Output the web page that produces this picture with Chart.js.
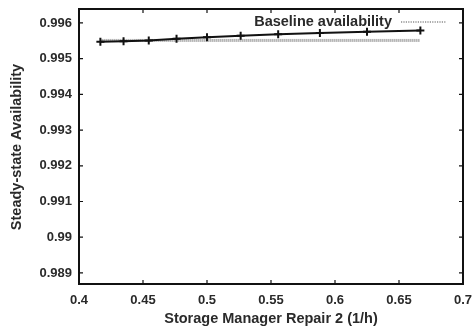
<!DOCTYPE html>
<html><head><meta charset="utf-8">
<script src="https://cdn.jsdelivr.net/npm/chart.js@4"></script>
<style>html,body{margin:0;padding:0;background:#fff}canvas{display:block}</style>
</head><body>
<canvas id="c" width="474" height="332"></canvas>
<script>
const repairRates = [0.4167, 0.4348, 0.4545, 0.4762, 0.5, 0.5263, 0.5556, 0.5882, 0.625, 0.6667];
const availability = [0.99547, 0.99549, 0.99551, 0.99556, 0.99560, 0.99564, 0.99568, 0.99572, 0.99575, 0.99579];
const baselineX = [0.4167, 0.6667];
const baselineY = [0.99551, 0.99551];
const xTicks = [0.4, 0.45, 0.5, 0.55, 0.6, 0.65, 0.7];
const yTicks = [0.989, 0.99, 0.991, 0.992, 0.993, 0.994, 0.995, 0.996];
const xTitle = 'Storage Manager Repair 2 (1/h)';
const yTitle = 'Steady-state Availability';
const legendLabel = 'Baseline availability';

const FAMILY = '"Liberation Sans", Arial, sans-serif';
const TITLE_FONT = 'bold 14.5px ' + FAMILY;
const TXT = '#2a2a2a';

const frame = {
  id: 'frame',
  afterDraw(chart) {
    const {ctx, chartArea: a, scales} = chart;
    ctx.save();
    ctx.strokeStyle = '#111'; ctx.lineWidth = 1.2;
    xTicks.forEach(v => {
      const x = scales.x.getPixelForValue(v);
      ctx.beginPath(); ctx.moveTo(x, a.bottom); ctx.lineTo(x, a.bottom - 4);
      ctx.moveTo(x, a.top); ctx.lineTo(x, a.top + 4); ctx.stroke();
    });
    yTicks.forEach(v => {
      const y = scales.y.getPixelForValue(v);
      ctx.beginPath(); ctx.moveTo(a.left, y); ctx.lineTo(a.left + 4, y);
      ctx.moveTo(a.right, y); ctx.lineTo(a.right - 4, y); ctx.stroke();
    });
    ctx.strokeStyle = '#111'; ctx.lineWidth = 2;
    ctx.strokeRect(a.left, a.top, a.right - a.left, a.bottom - a.top);
    // legend
    ctx.font = TITLE_FONT; ctx.fillStyle = TXT; ctx.textAlign = 'right'; ctx.textBaseline = 'middle';
    ctx.fillText(legendLabel, 392, 22);
    ctx.strokeStyle = '#555'; ctx.lineWidth = 1.2; ctx.setLineDash([1.2, 1.2]);
    ctx.beginPath(); ctx.moveTo(401, 22); ctx.lineTo(446, 22); ctx.stroke();
    ctx.setLineDash([]);
    // axis titles
    ctx.textAlign = 'center';
    ctx.fillText(xTitle, 271, 319);
    ctx.translate(17, 147); ctx.rotate(-Math.PI / 2);
    ctx.fillText(yTitle, 0, 0);
    ctx.restore();
  }
};

new Chart(document.getElementById('c'), {
  type: 'scatter',
  data: {
    datasets: [
      {
        data: baselineX.map((x, i) => ({x, y: baselineY[i]})),
        showLine: true, borderColor: '#8a8a8a', borderWidth: 3, borderDash: [1, 1],
        pointRadius: 0, order: 2
      },
      {
        data: repairRates.map((x, i) => ({x, y: availability[i]})),
        showLine: true, borderColor: '#111', borderWidth: 2,
        pointStyle: 'cross', pointRadius: 4, pointBorderWidth: 2,
        pointBorderColor: '#111', order: 1
      }
    ]
  },
  options: {
    responsive: false, animation: false,
    layout: {padding: {left: 0, right: 11, top: 9, bottom: 0}},
    plugins: {legend: {display: false}, tooltip: {enabled: false}},
    scales: {
      x: {
        type: 'linear', min: 0.4, max: 0.7,
        afterBuildTicks: s => { s.ticks = xTicks.map(v => ({value: v})); },
        afterFit: s => { s.height = 48; s.paddingLeft = 0; s.paddingRight = 11; },
        grid: {display: false, drawTicks: false, tickLength: 0}, border: {display: false},
        ticks: {color: TXT, font: {family: FAMILY, size: 13, weight: 'bold'},
          padding: 9, maxRotation: 0, callback: v => String(parseFloat(v.toFixed(2)))}
      },
      y: {
        type: 'linear', min: 0.98869, max: 0.99639,
        afterBuildTicks: s => { s.ticks = yTicks.map(v => ({value: v})); },
        afterFit: s => { s.width = 79; s.paddingTop = 0; s.paddingBottom = 0; },
        grid: {display: false, drawTicks: false, tickLength: 0}, border: {display: false},
        ticks: {color: TXT, font: {family: FAMILY, size: 13, weight: 'bold'},
          padding: 7, callback: v => String(parseFloat(v.toFixed(3)))}
      }
    }
  },
  plugins: [frame]
});
</script>
</body></html>
